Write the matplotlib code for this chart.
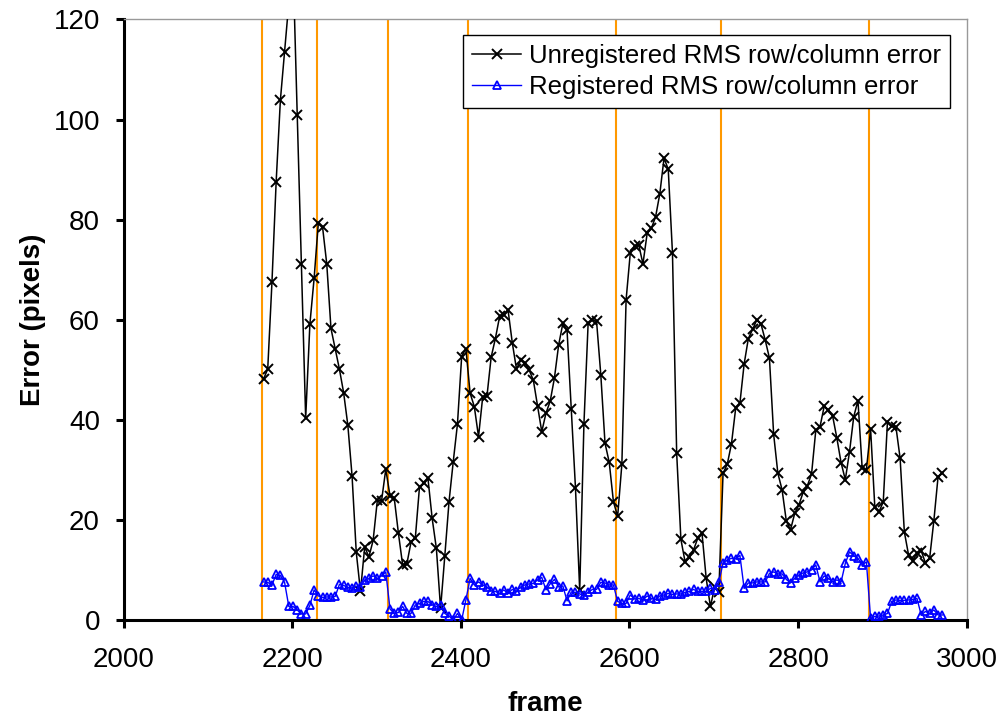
import matplotlib.pyplot as plt

frames = [2166, 2171, 2176, 2181, 2186, 2191, 2196, 2201, 2206, 2211,
          2216, 2221, 2226, 2231, 2236, 2241, 2246, 2251, 2256, 2261,
          2266, 2271, 2276, 2281, 2286, 2291, 2296, 2301, 2306, 2311,
          2316, 2321, 2326, 2331, 2336, 2341, 2346, 2351, 2356, 2361,
          2366, 2371, 2376, 2381, 2386, 2391, 2396, 2401, 2406, 2411,
          2416, 2421, 2426, 2431, 2436, 2441, 2446, 2451, 2456, 2461,
          2466, 2471, 2476, 2481, 2486, 2491, 2496, 2501, 2506, 2511,
          2516, 2521, 2526, 2531, 2536, 2541, 2546, 2551, 2556, 2561,
          2566, 2571, 2576, 2581, 2586, 2591, 2596, 2601, 2606, 2611,
          2616, 2621, 2626, 2631, 2636, 2641, 2646, 2651, 2656, 2661,
          2666, 2671, 2676, 2681, 2686, 2691, 2696, 2701, 2706, 2711,
          2716, 2721, 2726, 2731, 2736, 2741, 2746, 2751, 2756, 2761,
          2766, 2771, 2776, 2781, 2786, 2791, 2796, 2801, 2806, 2811,
          2816, 2821, 2826, 2831, 2836, 2841, 2846, 2851, 2856, 2861,
          2866, 2871, 2876, 2881, 2886, 2891, 2896, 2901, 2906, 2911,
          2916, 2921, 2926, 2931, 2936, 2941, 2946, 2951, 2956, 2961,
          2966, 2971]

unregistered = [48.2, 50.2, 67.5, 87.6, 103.9, 113.6, 123.5, 131, 101, 71.1,
                40.4, 59.2, 68.3, 79.3, 78.6, 71.2, 58.3, 54.2, 50.2, 45.5,
                39, 28.9, 13.6, 5.8, 14.7, 12.7, 16, 24, 23.9, 30.2,
                24.9, 24.5, 17.4, 11.1, 11.3, 15.7, 16.4, 26.7, 27.5, 28.4,
                20.4, 14.4, 2.4, 12.9, 23.7, 31.7, 39.2, 52.7, 54.3, 45.4,
                42.7, 36.7, 44.7, 44.8, 52.6, 56.3, 60.7, 61, 62, 55.5,
                50.2, 52, 51.5, 50, 48, 42.8, 37.7, 41.4, 43.8, 48.4,
                55, 59.3, 57.9, 42.2, 26.4, 6, 39.2, 59.4, 60, 59.7,
                49.1, 35.4, 31.6, 23.7, 20.8, 31.2, 64, 73.4, 74.8, 75,
                71.2, 77.3, 78.3, 80.6, 85.2, 92.3, 90.1, 73.4, 33.4, 16.2,
                11.7, 12.6, 14.1, 16.4, 17.5, 8.4, 2.8, 6.6, 5.7, 29.4,
                31.2, 35.3, 42.4, 43.4, 51.2, 56.3, 58.1, 60, 59.2, 56,
                52.4, 37.2, 29.4, 26.1, 19.9, 18.1, 21.4, 23.1, 25.6, 26.9,
                29.3, 38, 38.7, 42.8, 42, 40.8, 36.4, 31.5, 28.1, 33.7,
                40.7, 43.9, 30.4, 30.1, 38.2, 22.6, 21.7, 23.7, 39.7, 38.8,
                38.7, 32.4, 17.7, 13.1, 11.9, 13.5, 13.9, 11.5, 12.4, 19.9,
                28.7, 29.4]

registered = [7.7, 7.6, 7.1, 9.2, 9.0, 7.6, 2.8, 2.8, 2.1, 1.3,
              1.3, 3.0, 6.1, 4.9, 4.6, 4.7, 4.7, 4.8, 7.2, 7.0,
              6.6, 6.5, 6.8, 6.7, 8.1, 8.4, 8.9, 8.4, 8.9, 9.7,
              2.3, 1.4, 1.6, 2.8, 1.4, 1.4, 3.1, 3.4, 3.8, 3.8,
              3.1, 2.8, 3.1, 1.4, 0.9, 0.1, 1.4, 0.1, 4.1, 8.4,
              7.1, 7.7, 7.1, 6.7, 5.9, 5.8, 5.4, 6.1, 5.4, 6.2,
              5.8, 6.7, 7.1, 7.3, 7.4, 8.1, 8.6, 6.1, 7.3, 8.2,
              6.7, 6.9, 3.9, 5.7, 5.6, 5.3, 5.0, 5.6, 6.2, 6.2,
              7.6, 7.5, 7.1, 7.1, 3.8, 3.4, 3.4, 5.1, 4.3, 4.4,
              4.1, 4.9, 4.4, 4.2, 4.9, 5.1, 5.4, 5.2, 5.3, 5.3,
              5.6, 5.8, 6.2, 5.8, 5.8, 5.8, 6.4, 6.1, 7.6, 11.5,
              12.1, 12.4, 12.3, 13.0, 6.4, 7.5, 7.5, 7.7, 7.7, 7.7,
              9.4, 9.7, 9.3, 9.3, 8.2, 7.5, 8.4, 9.1, 9.5, 9.7,
              10.1, 11.1, 7.7, 8.9, 8.4, 7.7, 8.1, 7.7, 11.4, 13.7,
              12.9, 12.4, 11.1, 11.7, 0.4, 0.8, 0.9, 1.1, 1.4, 3.8,
              4.1, 4.0, 4.0, 4.1, 4.2, 4.4, 1.1, 1.8, 1.4, 2.1,
              1.1, 1.1]

# segment boundaries (orange markers)
boundaries = [2164, 2229, 2314, 2409, 2584, 2709, 2884]

plt.rcParams['font.family'] = ['Liberation Sans', 'DejaVu Sans']

fig = plt.figure(figsize=(10.02, 7.21), dpi=100)
ax = fig.add_axes([0.1233, 0.1394, 0.8415, 0.8336])

ax.vlines(boundaries, 0, 120, color='#FF9900', lw=1.5, zorder=1)
ax.hlines(0, boundaries[0], boundaries[-1], color='#FF9900', lw=1.5, zorder=1)

ax.plot(frames, unregistered, color='black', marker='x', ms=7, mew=1.4, lw=1.1,
        label='Unregistered RMS row/column error', zorder=3)
ax.plot(frames, registered, color='blue', marker='^', ms=6, mfc='none', mew=1.3,
        lw=1.0, label='Registered RMS row/column error', zorder=3)

ax.set_xlim(2000, 3000)
ax.set_ylim(0, 120)
ax.set_xticks([2000, 2200, 2400, 2600, 2800, 3000])
ax.set_yticks([0, 20, 40, 60, 80, 100, 120])

for s in ['left', 'bottom']:
    ax.spines[s].set_linewidth(2.2)
    ax.spines[s].set_color('black')
for s in ['top', 'right']:
    ax.spines[s].set_linewidth(1.0)
    ax.spines[s].set_color('#999999')

ax.tick_params(direction='out', length=6, width=2.2, labelsize=20,
               top=False, right=False)
ax.tick_params(axis='x', pad=13)
ax.tick_params(axis='y', pad=11)

ax.set_xlabel('frame', fontsize=20, fontweight='bold', labelpad=13)
ax.set_ylabel('Error (pixels)', fontsize=20, fontweight='bold', labelpad=5)

leg = ax.legend(loc='upper right', bbox_to_anchor=(0.98, 0.974), fontsize=18.5,
                fancybox=False, edgecolor='black', framealpha=1,
                handlelength=1.9, handletextpad=0.3, borderpad=0.35,
                borderaxespad=0, labelspacing=0.25)
leg.get_frame().set_linewidth(1.0)

fig.savefig('out.png', dpi=100)
